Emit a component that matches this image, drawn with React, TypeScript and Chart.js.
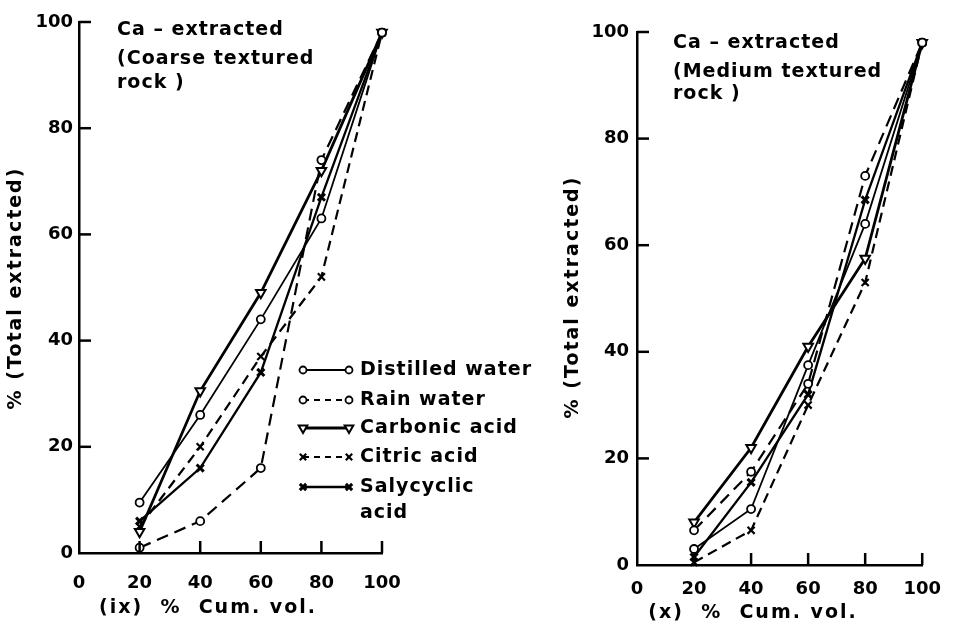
import React, { useEffect, useRef } from "react";
import { Chart, registerables } from "chart.js";
import { drawPoint } from "chart.js/helpers";
Chart.register(...registerables);

// ---------------- data ----------------
const cumVol = [20, 40, 60, 80, 100];
const xTicks = [0, 20, 40, 60, 80, 100];
const yTicks = [0, 20, 40, 60, 80, 100];

const seriesNames = ["Distilled water", "Rain water", "Carbonic acid", "Citric acid", "Salycyclic acid"];

// Coarse textured rock (ix)
const coarseDistilled = [9.5, 26, 44, 63, 98];
const coarseRain = [1, 6, 16, 74, 98];
const coarseCarbonic = [4, 30.5, 49, 72, 98];
const coarseCitric = [5, 20, 37, 52, 98];
const coarseSalycyclic = [6, 16, 34, 67, 98];

// Medium textured rock (x)
const mediumDistilled = [3, 10.5, 37.5, 64, 98];
const mediumRain = [6.5, 17.5, 34, 73, 98];
const mediumCarbonic = [8, 22, 41, 57.5, 98];
const mediumCitric = [0.5, 6.5, 30, 53, 98];
const mediumSalycyclic = [1.5, 15.5, 32, 68.5, 98];

const coarseTitle = ["Ca – extracted", "(Coarse textured", "rock )"];
const mediumTitle = ["Ca – extracted", "(Medium textured", "rock )"];
const yAxisTitle = "% (Total extracted)";
const coarseXTitle = "(ix)  %  Cum. vol.";
const mediumXTitle = "(x)  %  Cum. vol.";
const legendLines = ["Distilled water", "Rain water", "Carbonic acid", "Citric acid", "Salycyclic", "acid"];

// ---------------- styles ----------------
const FONT = "'DejaVu Sans', sans-serif";
const seriesStyles = [
  { dash: [] as number[], width: 1.8, pointStyle: "circle", radius: 4, rotation: 0, pbw: 1.8 },
  { dash: [12, 7], width: 2.2, pointStyle: "circle", radius: 4, rotation: 0, pbw: 1.8 },
  { dash: [] as number[], width: 2.8, pointStyle: "triangle", radius: 5.5, rotation: 180, pbw: 2 },
  { dash: [10, 6], width: 2.2, pointStyle: "crossRot", radius: 5, rotation: 0, pbw: 2.2 },
  { dash: [] as number[], width: 2.3, pointStyle: "crossRot", radius: 5, rotation: 0, pbw: 3 },
];

type PanelDef = {
  left: number;
  width: number;
  height: number;
  area: { left: number; right: number; top: number; bottom: number };
  series: number[][];
  title: string[];
  titlePos: { x: number; y: number[] };
  yTitlePos: { x: number; y: number };
  xTitle: string;
  xTitlePos: { x: number; y: number };
  xTickPad: number;
  yTickPad: number;
  legend: boolean;
};

const coarseDef: PanelDef = {
  left: 0,
  width: 540,
  height: 631,
  area: { left: 79, right: 382, top: 22, bottom: 553 },
  series: [coarseDistilled, coarseRain, coarseCarbonic, coarseCitric, coarseSalycyclic],
  title: coarseTitle,
  titlePos: { x: 117, y: [30, 59, 83] },
  yTitlePos: { x: 16, y: 288 },
  xTitle: coarseXTitle,
  xTitlePos: { x: 208, y: 608 },
  xTickPad: 20,
  yTickPad: 6,
  legend: true,
};

const mediumDef: PanelDef = {
  left: 540,
  width: 415,
  height: 631,
  area: { left: 97, right: 390, top: 32, bottom: 565 },
  series: [mediumDistilled, mediumRain, mediumCarbonic, mediumCitric, mediumSalycyclic],
  title: mediumTitle,
  titlePos: { x: 133, y: [43, 72, 94] },
  yTitlePos: { x: 33, y: 297 },
  xTitle: mediumXTitle,
  xTitlePos: { x: 213, y: 613 },
  xTickPad: 14,
  yTickPad: 8,
  legend: false,
};

function decorPlugin(def: PanelDef) {
  return {
    id: "decor",
    afterDraw(chart: any) {
      const ctx: CanvasRenderingContext2D = chart.ctx;
      const xs = chart.scales.x;
      const ys = chart.scales.y;
      const ax = chart.chartArea;
      ctx.save();
      ctx.strokeStyle = "#000";
      ctx.fillStyle = "#000";
      ctx.lineWidth = 2.5;
      ctx.setLineDash([]);
      // inward ticks on y axis
      yTicks.forEach((v) => {
        if (v === 0) return;
        const py = ys.getPixelForValue(v);
        ctx.beginPath();
        ctx.moveTo(ax.left, py);
        ctx.lineTo(ax.left + 12, py);
        ctx.stroke();
      });
      // inward ticks on x axis
      xTicks.forEach((v) => {
        if (v === 0) return;
        const px = xs.getPixelForValue(v);
        ctx.beginPath();
        ctx.moveTo(px, ax.bottom);
        ctx.lineTo(px, ax.bottom - 12);
        ctx.stroke();
      });

      // annotation title
      ctx.font = `bold 19px ${FONT}`;
      ctx.textAlign = "left";
      ctx.textBaseline = "middle";
      (ctx as any).letterSpacing = "1px";
      def.title.forEach((t, i) => ctx.fillText(t, def.titlePos.x, def.titlePos.y[i]));

      // axis titles
      ctx.font = `bold 19px ${FONT}`;
      (ctx as any).letterSpacing = "2px";
      ctx.textAlign = "center";
      ctx.fillText(def.xTitle, def.xTitlePos.x, def.xTitlePos.y);
      ctx.save();
      ctx.translate(def.yTitlePos.x, def.yTitlePos.y);
      ctx.rotate(-Math.PI / 2);
      ctx.fillText(yAxisTitle, 0, 0);
      ctx.restore();

      // legend
      if (def.legend) {
        const rows = [370, 400, 428, 457, 487];
        const x1 = 303;
        const x2 = 349;
        seriesStyles.forEach((s, i) => {
          const y = rows[i];
          ctx.lineWidth = s.width;
          ctx.setLineDash(s.dash.length ? [6, 5] : []);
          ctx.beginPath();
          ctx.moveTo(x1, y);
          ctx.lineTo(x2, y);
          ctx.stroke();
          ctx.setLineDash([]);
          ctx.lineWidth = s.pbw;
          ctx.fillStyle = "#fff";
          const opts: any = { pointStyle: s.pointStyle, radius: s.radius - 0.5, rotation: s.rotation, borderWidth: s.pbw };
          drawPoint(ctx, opts, x1, y);
          drawPoint(ctx, opts, x2, y);
        });
        ctx.fillStyle = "#000";
        ctx.font = `bold 19px ${FONT}`;
        (ctx as any).letterSpacing = "1px";
        ctx.textAlign = "left";
        ctx.textBaseline = "middle";
        const textRows = [370, 400, 428, 457, 487, 513];
        legendLines.forEach((t, i) => ctx.fillText(t, 360, textRows[i]));
      }
      ctx.restore();
    },
  };
}

function Panel({ def }: { def: PanelDef }) {
  const ref = useRef<HTMLCanvasElement>(null);
  useEffect(() => {
    const cv = ref.current!;
    const datasets = def.series.map((vals, i) => {
      const s = seriesStyles[i];
      return {
        label: seriesNames[i],
        data: cumVol.map((x, j) => ({ x, y: vals[j] })),
        borderColor: "#000",
        backgroundColor: "#fff",
        borderWidth: s.width,
        borderDash: s.dash,
        pointStyle: s.pointStyle,
        pointRadius: s.radius,
        pointRotation: s.rotation,
        pointBorderWidth: s.pbw,
        pointBackgroundColor: "#fff",
        pointBorderColor: "#000",
        tension: 0,
        fill: false,
        clip: false as any,
      };
    });
    const tickFont = { family: FONT, size: 18, weight: "bold" as any };
    const chart = new Chart(cv, {
      type: "line",
      data: { datasets: datasets as any },
      options: {
        animation: false,
        responsive: false,
        devicePixelRatio: 1,
        layout: {
          padding: { left: 0, top: def.area.top, right: def.width - def.area.right, bottom: 0 },
        },
        plugins: { legend: { display: false }, tooltip: { enabled: false } },
        scales: {
          x: {
            type: "linear",
            min: 0,
            max: 100,
            afterBuildTicks: (s: any) => {
              s.ticks = xTicks.map((v) => ({ value: v }));
            },
            ticks: { color: "#000", font: tickFont, padding: def.xTickPad, maxRotation: 0, autoSkip: false },
            grid: { display: false, drawTicks: false },
            border: { display: true, color: "#000", width: 2.5 },
            afterFit: (s: any) => {
              s.height = def.height - def.area.bottom;
            },
          },
          y: {
            type: "linear",
            min: 0,
            max: 100,
            afterBuildTicks: (s: any) => {
              s.ticks = yTicks.map((v) => ({ value: v }));
            },
            ticks: { color: "#000", font: tickFont, padding: def.yTickPad, autoSkip: false },
            grid: { display: false, drawTicks: false },
            border: { display: true, color: "#000", width: 2.5 },
            afterFit: (s: any) => {
              s.width = def.area.left;
            },
          },
        },
      },
      plugins: [decorPlugin(def) as any],
    });
    return () => chart.destroy();
  }, [def]);
  return (
    <canvas
      ref={ref}
      width={def.width}
      height={def.height}
      style={{ position: "absolute", left: def.left, top: 0, width: def.width, height: def.height }}
    />
  );
}

export default function App() {
  return (
    <div style={{ position: "fixed", left: 0, top: 0, width: 955, height: 631, background: "#fff", overflow: "hidden" }}>
      <Panel def={coarseDef} />
      <Panel def={mediumDef} />
    </div>
  );
}
